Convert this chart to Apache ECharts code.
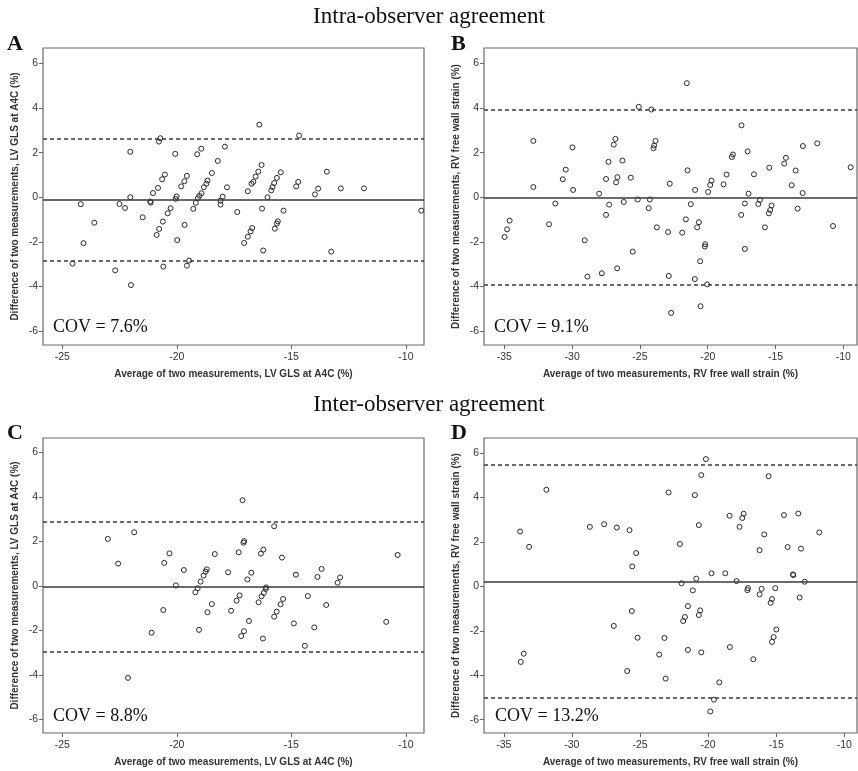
<!DOCTYPE html>
<html><head><meta charset="utf-8">
<script src="https://cdn.jsdelivr.net/npm/echarts@6/dist/echarts.min.js"></script>
<style>html,body{margin:0;padding:0;background:#fff}#c{width:858px;height:771px}</style>
</head><body><div id="c"></div>
<script>
const sectionTitles = ['Intra-observer agreement', 'Inter-observer agreement'];
const panelLetters = ['A', 'B', 'C', 'D'];
const covLabels = ['COV = 7.6%', 'COV = 9.1%', 'COV = 8.8%', 'COV = 13.2%'];
const xNames = ['Average of two measurements, LV GLS at A4C (%)', 'Average of two measurements, RV free wall strain (%)',
                'Average of two measurements, LV GLS at A4C (%)', 'Average of two measurements, RV free wall strain (%)'];
const yNames = ['Difference of two measurements, LV GLS at A4C (%)', 'Difference of two measurements, RV free wall strain (%)',
                'Difference of two measurements, LV GLS at A4C (%)', 'Difference of two measurements, RV free wall strain (%)'];
const xTicksLV = [-25, -20, -15, -10];
const xTicksRV = [-35, -30, -25, -20, -15, -10];
const yTicks = [-6, -4, -2, 0, 2, 4, 6];

// Panel A: intra-observer, LV GLS
const aX = [-24.55,-24.19,-24.07,-23.60,-22.69,-22.50,-22.26,-22.03,-22.03,-22.00,
-21.49,-21.16,-21.14,-21.04,-20.88,-20.82,-20.77,-20.72,-20.78,-20.64,
-20.61,-20.59,-20.52,-20.40,-20.27,-20.07,-20.05,-20.01,-19.98,-19.81,
-19.67,-19.66,-19.56,-19.56,-19.46,-19.28,-19.17,-19.11,-19.08,-19.01,
-18.93,-18.92,-18.82,-18.71,-18.66,-18.47,-18.21,-18.09,-18.09,-18.00,
-17.90,-17.81,-17.36,-17.06,-16.90,-16.90,-16.78,-16.74,-16.71,-16.66,
-16.56,-16.44,-16.40,-16.30,-16.28,-16.23,-16.04,-15.88,-15.82,-15.75,
-15.72,-15.63,-15.63,-15.59,-15.46,-15.34,-14.79,-14.70,-14.66,-13.97,
-13.83,-13.45,-13.26,-12.84,-11.83,-9.33];
const aY = [-2.98,-0.31,-2.06,-1.14,-3.28,-0.30,-0.48,2.04,0.00,-3.94,
-0.90,-0.19,-0.24,0.19,-1.69,0.42,-1.42,2.65,2.50,0.81,
-1.09,-3.11,1.02,-0.72,-0.49,1.95,-0.07,0.04,-1.92,0.49,
0.72,-1.24,0.96,-3.07,-2.84,-0.52,-0.25,1.93,-0.04,0.07,
2.18,0.18,0.45,0.61,0.75,1.09,1.63,-0.15,-0.33,0.03,
2.27,0.45,-0.66,-2.05,0.27,-1.77,-1.53,0.61,-1.38,0.69,
0.93,1.15,3.26,1.45,-0.51,-2.39,0.00,0.31,0.46,0.64,
-1.41,0.87,-1.18,-1.08,1.12,-0.60,0.49,0.69,2.77,0.13,
0.39,1.15,-2.44,0.40,0.40,-0.60];
const aLines = [2.62, -0.12, -2.87]; // upper limit, mean, lower limit

// Panel B: intra-observer, RV free wall strain
const bX = [-34.98,-34.80,-34.61,-32.86,-32.86,-31.70,-31.24,-30.69,-30.47,-29.98,
-29.93,-29.07,-28.87,-28.01,-27.81,-27.50,-27.50,-27.32,-27.27,-26.93,
-26.81,-26.76,-26.68,-26.66,-26.29,-26.19,-25.67,-25.53,-25.16,-25.08,
-24.35,-24.27,-24.15,-24.00,-23.95,-23.85,-23.75,-22.92,-22.87,-22.80,
-22.70,-21.88,-21.61,-21.54,-21.49,-21.25,-20.95,-20.93,-20.78,-20.65,
-20.56,-20.53,-20.19,-20.21,-20.04,-19.97,-19.82,-19.72,-18.83,-18.61,
-18.22,-18.14,-17.53,-17.51,-17.26,-17.26,-17.06,-16.99,-16.59,-16.27,
-16.15,-15.78,-15.46,-15.49,-15.39,-15.29,-14.36,-14.23,-13.81,-13.52,
-13.37,-13.00,-12.98,-11.92,-10.76,-9.46];
const bY = [-1.78,-1.44,-1.05,2.53,0.46,-1.21,-0.28,0.81,1.24,2.24,
0.33,-1.93,-3.56,0.16,-3.41,0.82,-0.79,1.59,-0.33,2.36,
2.62,0.67,-3.19,0.90,1.65,-0.21,0.88,-2.44,-0.10,4.06,
-0.49,-0.10,3.94,2.20,2.32,2.53,-1.35,-1.56,-3.53,0.61,
-5.19,-1.59,-0.99,5.12,1.21,-0.31,-3.67,0.33,-1.35,-1.12,
-2.87,-4.89,-2.11,-2.21,-3.91,0.24,0.55,0.75,0.58,1.02,
1.81,1.92,-0.79,3.23,-0.28,-2.32,2.06,0.16,1.03,-0.30,
-0.12,-1.35,1.33,-0.72,-0.57,-0.37,1.51,1.77,0.54,1.20,
-0.51,0.19,2.30,2.42,-1.29,1.35];
const bLines = [3.94, 0.00, -3.93];

// Panel C: inter-observer, LV GLS
const cX = [-23.01,-22.56,-22.13,-21.86,-21.10,-20.59,-20.55,-20.32,-20.04,-19.69,
-19.19,-19.09,-19.03,-18.96,-18.83,-18.74,-18.69,-18.66,-18.47,-18.34,
-17.76,-17.63,-17.39,-17.30,-17.26,-17.19,-17.13,-17.09,-17.06,-17.07,
-16.92,-16.85,-16.75,-16.43,-16.33,-16.30,-16.24,-16.22,-16.20,-16.12,
-16.10,-15.75,-15.75,-15.64,-15.47,-15.41,-15.36,-14.89,-14.80,-14.41,
-14.28,-14.00,-13.86,-13.68,-13.48,-12.98,-12.87,-10.86,-10.36];
const cY = [2.11,1.00,-4.14,2.41,-2.11,-1.09,1.03,1.46,0.02,0.71,
-0.29,-0.11,-1.98,0.19,0.46,0.64,0.74,-1.19,-0.82,1.43,
0.61,-1.12,-0.67,1.51,-0.43,-2.26,3.85,1.94,2.01,-2.04,
0.29,-1.58,0.59,-0.74,1.45,-0.47,-2.37,1.63,-0.32,-0.14,
-0.07,-1.39,2.68,-1.16,-0.83,1.27,-0.59,-1.69,0.50,-2.70,
-0.46,-1.87,0.40,0.76,-0.86,0.14,0.38,-1.62,1.39];
const cLines = [2.88, -0.04, -2.97];

// Panel D: inter-observer, RV free wall strain
const dX = [-33.80,-33.75,-33.53,-33.14,-31.87,-28.68,-27.63,-26.92,-26.70,-25.94,
-25.77,-25.60,-25.57,-25.28,-25.18,-23.59,-23.20,-23.12,-22.90,-22.07,
-21.95,-21.83,-21.70,-21.48,-21.48,-21.12,-20.97,-20.87,-20.68,-20.68,
-20.58,-20.50,-20.50,-20.16,-19.84,-19.75,-19.57,-19.18,-18.74,-18.42,
-18.40,-17.91,-17.69,-17.49,-17.39,-17.12,-17.07,-16.68,-16.22,-16.22,
-16.07,-15.88,-15.56,-15.41,-15.31,-15.31,-15.19,-15.07,-14.99,-14.43,
-14.16,-13.77,-13.75,-13.38,-13.28,-13.18,-12.91,-11.84];
const dY = [2.47,-3.40,-3.03,1.78,4.35,2.68,2.80,-1.78,2.65,-3.81,
2.53,-1.11,0.90,1.50,-2.31,-3.07,-2.32,-4.15,4.23,1.91,
0.14,-1.56,-1.38,-0.89,-2.86,-0.18,4.11,0.35,2.76,-1.29,
-1.08,5.01,-2.97,5.73,-5.63,0.59,-5.10,-4.32,0.59,3.18,
-2.73,0.24,2.68,3.08,3.27,-0.17,-0.08,-3.28,-0.36,1.63,
-0.11,2.34,4.96,-0.74,-0.57,-2.50,-2.28,-0.08,-1.94,3.21,
1.77,0.54,0.51,3.28,-0.50,1.70,0.21,2.43];
const dLines = [5.47, 0.22, -5.02];

// ---- layout / styling ----
const panels = [
  {xs: aX, ys: aY, lines: aLines, xt: xTicksLV, grid: {left: 43, top: 48, width: 381, height: 297}, xr: [-25.84, -9.21], yr: [-6.63, 6.70]},
  {xs: bX, ys: bY, lines: bLines, xt: xTicksRV, grid: {left: 484, top: 48, width: 373, height: 297}, xr: [-36.50, -8.99], yr: [-6.63, 6.70]},
  {xs: cX, ys: cY, lines: cLines, xt: xTicksLV, grid: {left: 43, top: 438, width: 381, height: 295}, xr: [-25.84, -9.21], yr: [-6.62, 6.65]},
  {xs: dX, ys: dY, lines: dLines, xt: xTicksRV, grid: {left: 484, top: 438, width: 373, height: 295}, xr: [-36.45, -9.07], yr: [-6.60, 6.68]}
];
const SANS = '"Liberation Sans", Arial, sans-serif';
const SERIF = '"Liberation Serif", "Times New Roman", serif';
const lineColor = '#3a3a3a';
const frameColor = '#6a6a6a';

const grids = [], xAxes = [], yAxes = [], series = [];
panels.forEach((p, i) => {
  grids.push(Object.assign({show: true, borderColor: frameColor, borderWidth: 1.2, backgroundColor: '#fff'}, p.grid));
  xAxes.push({
    type: 'value', gridIndex: i, min: p.xr[0], max: p.xr[1], position: 'bottom',
    name: xNames[i], nameLocation: 'middle', nameGap: 24,
    nameTextStyle: {fontFamily: SANS, fontWeight: 'bold', fontSize: 10, color: '#333'},
    splitLine: {show: false}, axisLine: {show: false, onZero: false},
    axisTick: {show: true, inside: false, length: 4, customValues: p.xt, lineStyle: {color: frameColor}},
    axisLabel: {customValues: p.xt, margin: 7, fontFamily: SANS, fontSize: 10.5, color: '#333'}
  });
  yAxes.push({
    type: 'value', gridIndex: i, min: p.yr[0], max: p.yr[1], position: 'left',
    name: yNames[i], nameLocation: 'middle', nameGap: 23, nameRotate: 90,
    nameTextStyle: {fontFamily: SANS, fontWeight: 'bold', fontSize: 10, color: '#333'},
    splitLine: {show: false}, axisLine: {show: false, onZero: false},
    axisTick: {show: true, inside: false, length: 4, customValues: yTicks, lineStyle: {color: frameColor}},
    axisLabel: {customValues: yTicks, margin: 5, fontFamily: SANS, fontSize: 10.5, color: '#333'}
  });
  series.push({
    type: 'scatter', xAxisIndex: i, yAxisIndex: i,
    data: p.xs.map((x, k) => [x, p.ys[k]]),
    symbol: 'circle', symbolSize: 5,
    itemStyle: {color: 'rgba(255,255,255,0)', borderColor: '#2a2a2a', borderWidth: 1, opacity: 1},
    markLine: {
      silent: true, symbol: 'none', animation: false, label: {show: false},
      data: [
        {yAxis: p.lines[0], lineStyle: {type: [4, 3], color: lineColor, width: 1.5}},
        {yAxis: p.lines[1], lineStyle: {type: 'solid', color: lineColor, width: 1.5}},
        {yAxis: p.lines[2], lineStyle: {type: [4, 3], color: lineColor, width: 1.5}}
      ]
    }
  });
});

const letterPos = [[7, 44], [451, 44], [7, 433], [451, 433]];
const covPos = [[53, 327], [494, 327], [53, 716], [495, 716]];
const titlePos = [[429, 17], [429, 405]];
const graphics = [];
sectionTitles.forEach((t, i) => graphics.push({type: 'text', z: 100, style: {text: t, x: titlePos[i][0], y: titlePos[i][1], align: 'center', verticalAlign: 'middle', font: '23px ' + SERIF, fill: '#111'}}));
panelLetters.forEach((t, i) => graphics.push({type: 'text', z: 100, style: {text: t, x: letterPos[i][0], y: letterPos[i][1], align: 'left', verticalAlign: 'middle', font: 'bold 22px ' + SERIF, fill: '#111'}}));
covLabels.forEach((t, i) => graphics.push({type: 'text', z: 100, style: {text: t, x: covPos[i][0], y: covPos[i][1], align: 'left', verticalAlign: 'middle', font: '18px ' + SERIF, fill: '#111'}}));

const chart = echarts.init(document.getElementById('c'), null, {renderer: 'canvas'});
chart.setOption({
  animation: false,
  backgroundColor: '#fff',
  grid: grids, xAxis: xAxes, yAxis: yAxes, series: series,
  graphic: graphics
});
</script></body></html>
